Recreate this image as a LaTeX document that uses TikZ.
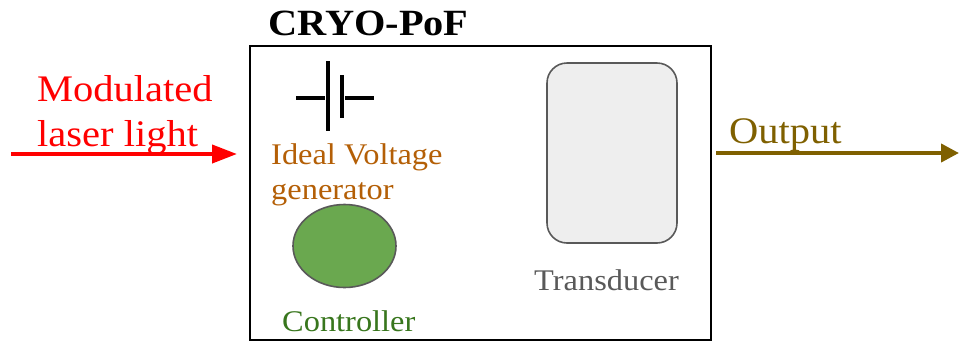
\documentclass[tikz,border=0pt]{standalone}
\usepackage{fontspec}
\setmainfont{Liberation Serif}
\usepackage{xcolor}
\usetikzlibrary{arrows.meta}
\usetikzlibrary{shapes.geometric}
\definecolor{lasercolor}{HTML}{FF0000}
\definecolor{outcolor}{HTML}{7F6000}
\definecolor{gencolor}{HTML}{B45F06}
\definecolor{ctrlcolor}{HTML}{38761D}
\definecolor{ctrlfill}{HTML}{6AA84F}
\definecolor{shapeline}{HTML}{595959}
\definecolor{transfill}{HTML}{EEEEEE}
\tikzstyle{lbl}=[inner sep=0pt,anchor=base west,xscale=1.08]
\tikzstyle{biglbl}=[lbl,font=\fontsize{37.5}{37.5}\selectfont]
\tikzstyle{smalllbl}=[lbl,font=\fontsize{30}{30}\selectfont]
\tikzstyle{plate}=[line width=4pt]
\tikzstyle{outline}=[draw=shapeline,line width=1.6pt,inner sep=0pt,outer sep=0pt]
\tikzstyle{beam}=[line width=4pt,->]
\begin{document}
\begin{tikzpicture}[x=1pt,y=-1pt]
	\useasboundingbox (0,0) rectangle (959,341);
	\node[draw,line width=1.6pt,minimum width=461pt,minimum height=294pt,inner sep=0pt,outer sep=0pt,anchor=north west] (box) at (250,46) {};
	\node[lbl,xscale=1.01,font=\bfseries\fontsize{37}{37}\selectfont] (title) at (268,35) {CRYO-PoF};
	% laser in
	\coordinate (in) at (11,154);
	\coordinate (intip) at (237,154);
	\draw[beam,>={Triangle[length=25pt,width=18pt]},lasercolor] (in) -- (intip);
	\node[biglbl,text=lasercolor] (laser1) at (37,101) {Modulated};
	\node[biglbl,text=lasercolor] (laser2) at (37,146) {laser light};
	% battery
	\coordinate (plateAa) at (327.5,61);
	\coordinate (plateAb) at (327.5,131);
	\coordinate (plateBa) at (341.5,75);
	\coordinate (plateBb) at (341.5,118);
	\coordinate (wireAa) at (296,97.5);
	\coordinate (wireAb) at (325,97.5);
	\coordinate (wireBa) at (345,97.5);
	\coordinate (wireBb) at (374,97.5);
	\draw[plate] (plateAa) -- (plateAb);
	\draw[plate] (plateBa) -- (plateBb);
	\draw[plate] (wireAa) -- (wireAb);
	\draw[plate] (wireBa) -- (wireBb);
	\node[smalllbl,text=gencolor] (gen1) at (271,164.5) {Ideal Voltage};
	\node[smalllbl,text=gencolor] (gen2) at (271,199) {generator};
	% controller
	\node[outline,fill=ctrlfill,ellipse,minimum width=103pt,minimum height=83pt] (ctrl) at (344.5,246) {};
	\node[smalllbl,text=ctrlcolor] (ctrltxt) at (282,331) {Controller};
	% transducer
	\node[outline,fill=transfill,rounded corners=20pt,minimum width=130pt,minimum height=180pt] (trans) at (612,153) {};
	\node[smalllbl,text=shapeline] (transtxt) at (534,290) {Transducer};
	% output
	\coordinate (out) at (716,153);
	\coordinate (outtip) at (959,153);
	\draw[beam,>={Triangle[length=18pt,width=18pt]},outcolor] (out) -- (outtip);
	\node[biglbl,text=outcolor] (outtxt) at (729,143.5) {Output};
\end{tikzpicture}
\end{document}
